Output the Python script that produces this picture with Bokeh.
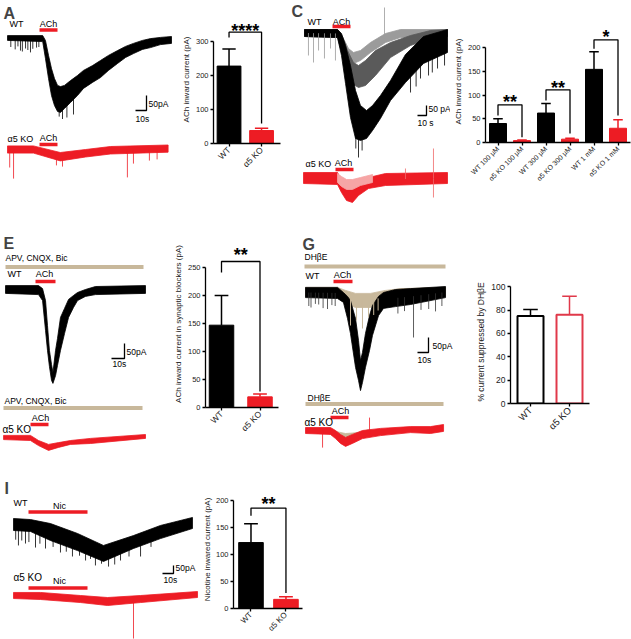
import math
import numpy as np
from bokeh.plotting import figure
from bokeh.models import Range1d, FixedTicker, Label
from bokeh.layouts import row, column
from bokeh.core.properties import value
from bokeh.embed import file_html
from bokeh.resources import INLINE

FONT = "Liberation Sans"
BLACK = "#000000"
RED = "#ed1c24"
TAN = "#c8b89b"
LGRAY = "#9b9b9b"
DGRAY = "#5a5a5a"
PINK = "#f6a5a5"
HRED = "#e0394a"

SCALE_S = 10      # s
SCALE_PA = 50     # pA

# ---------------- traces: time (s), envelope top / bottom (pA, rel. baseline) ----------------
A_wt_t = [0, 32, 34.5, 37.3, 40, 42.7, 45.5, 48.2, 51.8, 57.3, 63.6, 69.1, 77.3, 84.5, 91.8, 100, 107.3, 114.5, 122.7, 130, 139.1, 149.1]
A_wt_top = [8, 8, -8, -58, -102, -135, -158, -162, -158, -142, -125, -108, -92, -75, -58, -42, -28, -18, -8, -2, 2, 5]
A_wt_bot = [-8, -12, -68, -135, -192, -225, -245, -248, -235, -215, -192, -168, -148, -132, -108, -85, -65, -52, -38, -32, -22, -18]
A_wt_spk_t = [3, 7, 9.5, 11.8, 13.5, 16.4, 18.5, 20.9, 23, 26.4, 28.5, 44, 47, 50, 54, 60]
A_wt_spk_v = [-30, -38, -28, -42, -45, -35, -40, -48, -36, -32, -30, -215, -262, -270, -265, -255]
A_ko_t = [0, 23.6, 48, 71, 93.6, 146]
A_ko_top = [12, 12, -10, 0, 10, 15]
A_ko_bot = [-12, -12, -38, -25, -15, -9]
A_ko_spk_t = [2, 5.5, 44.5, 50, 109, 114.5, 129, 136]
A_ko_spk_v = [-60, -97, -53, -57, -93, -47, -37, -33]

C_1mM_t = [0, 36.7, 41.1, 45.6, 51.1, 56.7, 62.2, 68.9, 75.6, 84.4, 95.6, 112.2, 132.2, 158.9]
C_1mM_top = [15, 15, -5, -65, -165, -290, -365, -390, -365, -315, -240, -110, -20, 15]
C_1mM_bot = [-20, -25, -115, -255, -425, -530, -540, -530, -490, -430, -340, -250, -155, -100]
C_300_t = [0, 36.7, 42.2, 47.8, 54.4, 60, 67.8, 78.9, 95.6, 117.8, 140, 158.9]
C_300_top = [15, 15, -20, -90, -150, -165, -140, -90, -50, -15, 10, 15]
C_300_bot = [-20, -25, -115, -200, -260, -275, -265, -215, -125, -65, -30, -20]
C_100_t = [0, 36.7, 43.3, 48.9, 54.4, 62.2, 73.3, 90, 106.7, 158.9]
C_100_top = [15, 15, -30, -80, -100, -90, -50, -5, 15, 15]
C_100_bot = [-20, -25, -90, -140, -155, -140, -100, -50, -25, -20]
C_gray_spk_t = [4.4, 10, 15.6, 22.2, 28.9, 34.4, 88.9]
C_gray_spk_v = [-115, -150, -90, -130, -80, -140, 125]
C_blk_spk_t = [57, 60, 64, 117.8, 124, 128.9, 137.8, 142, 147.8, 155.6]
C_blk_spk_v = [-580, -625, -590, -300, -270, -230, -215, -200, -180, -165]
C_ko_t = [-1.1, 36.7, 41.1, 46.7, 53.3, 60, 71.1, 90, 158.9]
C_ko_top = [25, 25, -15, -55, -55, -30, 0, 20, 25]
C_ko_bot = [-30, -35, -75, -115, -125, -90, -55, -40, -30]
C_ko100_t = [36.7, 41.1, 46.7, 53.3, 62.2, 75.6]
C_ko100_top = [20, 5, -10, -10, 0, 15]
C_ko100_bot = [-25, -45, -60, -60, -40, -25]
C_ko_spk_t = [143.3, 143.3, 112.2]
C_ko_spk_v = [145, -100, 45]

E_wt_t = [0, 25.4, 28.5, 30.8, 32.3, 33.8, 35.4, 36.5, 38.5, 40, 42.3, 45.4, 48.5, 52.3, 55.4, 61.5, 69.2, 107.7]
E_wt_top = [13, 13, 3, -37, -120, -203, -250, -277, -203, -163, -93, -63, -33, -20, -10, 0, 10, 13]
E_wt_bot = [-13, -17, -37, -137, -203, -257, -303, -313, -287, -253, -203, -147, -93, -60, -37, -23, -17, -13]
E_ko_t = [-1.5, 19.2, 25.4, 33.1, 40.8, 50, 65.4, 107.7]
E_ko_top = [7, 7, -10, -23, -17, -10, -3, 10]
E_ko_bot = [-7, -10, -27, -43, -33, -23, -20, -3]

G_wt_t = [0, 29.1, 34.5, 38.2, 40.9, 45.5, 48.2, 50, 51.8, 54.5, 58.2, 60.9, 66.4, 70.9, 81.8, 95.5, 127.3]
G_wt_top = [17, 17, 0, -13, -27, -87, -160, -227, -200, -137, -77, -43, -13, 0, 10, 13, 20]
G_wt_bot = [-17, -20, -33, -87, -137, -250, -293, -327, -300, -250, -193, -143, -77, -53, -47, -40, -17]
G_wt_spk_t = [3, 5, 9, 12, 16, 20, 24, 27, 84, 90, 98.2, 105, 112, 118.2, 124]
G_wt_spk_v = [-45, -50, -38, -40, -52, -55, -42, -45, -70, -62, -150, -58, -55, -63, -45]
G_dh_t = [0, 29.1, 36.4, 45.5, 59.1, 72.7, 86.4, 127.3]
G_dh_top = [17, 17, 7, -3, -3, 7, 13, 17]
G_dh_bot = [-13, -17, -37, -50, -50, -33, -20, -13]
G_dh_spk_t = [40.9, 46.4, 51.8, 57.3, 62, 66]
G_dh_spk_v = [-110, -93, -120, -83, -75, -60]
G_ko_t = [0, 22.7, 27.3, 31.8, 36.4, 42.7, 51.8, 68.2, 95.5, 113.6, 125.5]
G_ko_top = [10, 10, 0, -13, -23, -13, 0, 7, 13, 13, 20]
G_ko_bot = [-10, -13, -27, -43, -53, -43, -27, -17, -7, -10, -3]
G_kodh_t = [20.9, 27.3, 36.4, 48.2, 57.3]
G_kodh_top = [7, -3, -10, -7, 3]
G_kodh_bot = [-10, -20, -30, -23, -13]
G_ko_spk_t = [58.2, 15.5]
G_ko_spk_v = [43, -57]

I_wt_t = [0, 15.5, 33.6, 58.2, 81.8, 109.1, 133.6, 162.7]
I_wt_top = [37.5, 31, 6, -56, -131, -69, -6, 44]
I_wt_bot = [-37.5, -44, -100, -163, -231, -150, -88, -25]
I_wt_spk_t = [2, 4.5, 7.5, 10.9, 14, 20, 24, 29.1, 36, 42.7, 48, 53.6, 60, 65.5, 70, 74.5, 80, 86.4, 92, 97.3, 105, 115.5, 125]
I_wt_spk_v = [-95, -131, -100, -119, -110, -144, -120, -150, -140, -175, -170, -200, -195, -225, -215, -256, -245, -263, -250, -225, -200, -200, -140]
I_ko_t = [0, 24.5, 60.9, 85.5, 115.5, 167.3]
I_ko_top = [19, 19, 0, -12.5, 0, 25]
I_ko_bot = [-19, -25, -44, -62.5, -44, -12.5]
I_ko_spk_t = [109.1]
I_ko_spk_v = [-269]

# ---------------- bar charts ----------------
B_labels = ["WT", "α5 KO"]
B_mean = [227, 38]
B_sem = [50, 7]
D_labels = ["WT 100 μM", "α5 KO 100 μM", "WT 300 μM", "α5 KO 300 μM", "WT 1 mM", "α5 KO 1 mM"]
D_mean = [40, 4, 62, 7, 154, 30]
D_sem = [10, 1.5, 20, 2, 37, 18]
F_labels = ["WT", "α5 KO"]
F_mean = [147, 19]
F_sem = [53, 5]
H_labels = ["WT", "α5 KO"]
H_mean = [75, 76]
H_sem = [5.5, 16]
J_labels = ["WT", "α5 KO"]
J_mean = [122.6, 17]
J_sem = [35, 5]

# significance brackets: (bar i, bar j, text)
B_sig = [(0, 1, "****")]
D_sig = [(0, 1, "**"), (2, 3, "**"), (4, 5, "*")]
F_sig = [(0, 1, "**")]
J_sig = [(0, 1, "**")]


class TracePanel:
    def __init__(self, w, h, px, py, sx, sy, ox, oy):
        self.sx, self.sy, self.ox, self.oy = sx, sy, ox, oy
        x0 = (px - ox) / sx
        x1 = (px + w - ox) / sx
        y0 = (oy - (py + h)) / sy
        y1 = (oy - py) / sy
        p = figure(width=w, height=h, x_range=Range1d(x0, x1), y_range=Range1d(y0, y1),
                   x_axis_location=None, y_axis_location=None, output_backend="svg",
                   toolbar_location=None, min_border=0)
        p.grid.visible = False
        p.outline_line_color = None
        self.p = p

    def X(self, x):
        return (x - self.ox) / self.sx

    def Y(self, y):
        return (self.oy - y) / self.sy

    def text(self, x, y, s, size=9, align="left", color=BLACK):
        self.p.text(x=[self.X(x)], y=[self.Y(y)], text=[s], text_font=value(FONT),
                    text_font_size=f"{size}px", text_align=align, text_baseline="middle",
                    text_color=color)

    def letter(self, x, y, s):
        self.p.add_layout(Label(x=self.X(x), y=self.Y(y), text=s, text_font=FONT,
                                text_font_size="16px", text_font_style="bold",
                                text_baseline="middle", text_align="left"))

    def hbar(self, x0, x1, y, color, lw=3.5):
        self.p.line([self.X(x0), self.X(x1)], [self.Y(y), self.Y(y)], line_color=color,
                    line_width=lw, line_cap="butt")

    def band(self, t, top, bot, color, base):
        off = self.Y(base)
        xs = list(t) + list(t)[::-1]
        ys = [v + off for v in top] + [v + off for v in bot][::-1]
        self.p.patch(xs, ys, fill_color=color, line_color=color, line_width=0.8)

    def spikes(self, st, sv, t, top, bot, color, base, lw=0.8):
        off = self.Y(base)
        mid = np.interp(st, t, (np.array(top) + np.array(bot)) / 2.0)
        self.p.segment(x0=list(st), y0=list(mid + off), x1=list(st), y1=[v + off for v in sv],
                       line_color=color, line_width=lw)

    def scalebar(self, xr, yb):
        X, Y = self.X(xr), self.Y(yb)
        self.p.line([X - SCALE_S, X, X], [Y, Y, Y + SCALE_PA], line_color=BLACK, line_width=1.3)


def bar_panel(w, h, px, py, fl, fr, ft, fb, ppx, ppy, xc0, bw_px, labels, means, sems,
              fills, lines, yticks, ylabel, tick_size=7.5, xlab_size=8.5, ylab_size=8,
              bar_lw=1, err_lw=1.5, sig=(), sig_geom=(), letter=None):
    xs0 = (fl - xc0) / ppx
    p = figure(width=w, height=h,
               x_range=Range1d(xs0, xs0 + (fr - fl) / ppx),
               y_range=Range1d(0, (fb - ft) / ppy),
               min_border_left=fl - px, min_border_right=px + w - fr,
               min_border_top=ft - py, min_border_bottom=py + h - fb,
               output_backend="svg", toolbar_location=None)
    p.grid.visible = False
    p.outline_line_color = None
    xs = list(range(len(means)))
    bw = bw_px / ppx
    tops = [m + s for m, s in zip(means, sems)]
    cw = bw * 0.28
    p.segment(x0=xs, y0=means, x1=xs, y1=tops, line_color=lines, line_width=err_lw)
    p.segment(x0=[x - cw for x in xs], y0=tops, x1=[x + cw for x in xs], y1=tops,
              line_color=lines, line_width=err_lw)
    p.vbar(x=xs, width=bw, top=means, bottom=0, fill_color=fills, line_color=lines,
           line_width=bar_lw)

    def Y(y):
        return (fb - y) / ppy

    def X(x):
        return xs0 + (x - fl) / ppx

    for (i, j, s), (yb, yl, yr, ys) in zip(sig, sig_geom):
        p.line([i, i, j, j], [Y(yl), Y(yb), Y(yb), Y(yr)], line_color=BLACK, line_width=1.3)
        p.text(x=[(i + j) / 2.0], y=[Y(ys)], text=[s], text_font=value(FONT),
               text_font_size="18px", text_font_style="bold", text_align="center",
               text_baseline="middle", y_offset=4)

    p.yaxis.ticker = FixedTicker(ticks=yticks)
    p.yaxis.bounds = (0, yticks[-1])
    p.xaxis.ticker = FixedTicker(ticks=xs)
    p.xaxis.major_label_overrides = {i: lab for i, lab in enumerate(labels)}
    p.xaxis.major_label_orientation = math.pi / 4
    for ax in (p.xaxis[0], p.yaxis[0]):
        ax.axis_line_width = 1.3
        ax.axis_line_color = BLACK
        ax.major_tick_line_width = 1.3
        ax.major_tick_out = 3
        ax.major_tick_in = 0
        ax.minor_tick_line_color = None
        ax.major_label_text_font = FONT
        ax.major_label_text_color = "#222222"
        ax.major_label_standoff = 2
    p.yaxis.major_label_text_font_size = f"{tick_size}px"
    p.xaxis.major_label_text_font_size = f"{xlab_size}px"
    p.yaxis.axis_label = ylabel
    p.yaxis.axis_label_text_font = FONT
    p.yaxis.axis_label_text_font_size = f"{ylab_size}px"
    p.yaxis.axis_label_text_font_style = "normal"
    p.yaxis.axis_label_text_color = "#222222"
    p.yaxis.axis_label_standoff = 2
    if letter:
        lx, ly, s = letter
        p.add_layout(Label(x=X(lx), y=Y(ly), text=s, text_font=FONT, text_font_size="16px",
                           text_font_style="bold", text_baseline="middle", text_align="left"))
    return p


# ---------------- Panel A ----------------
A = TracePanel(178, 235, 0, 0, 1.1, 0.3, 7, 37.5)
A.band(A_wt_t, A_wt_top, A_wt_bot, BLACK, 37.5)
A.spikes(A_wt_spk_t, A_wt_spk_v, A_wt_t, A_wt_top, A_wt_bot, BLACK, 37.5)
A.band(A_ko_t, A_ko_top, A_ko_bot, RED, 149)
A.spikes(A_ko_spk_t, A_ko_spk_v, A_ko_t, A_ko_top, A_ko_bot, RED, 149)
A.letter(3, 13, "A")
A.text(9, 23.5, "WT")
A.text(48, 23.5, "ACh", align="center")
A.hbar(39, 57, 29.5, RED)
A.text(7, 138, "α5 KO")
A.text(48, 137, "ACh", align="center")
A.hbar(39, 57, 144, RED)
A.scalebar(146, 110)
A.text(148, 103, "50pA", 8.5)
A.text(135, 118, "10s", 8.5)

# ---------------- Panel B ----------------
pB = bar_panel(112, 235, 178, 0, 211, 280, 15, 143, 33.5, 0.341, 227, 24.5,
               B_labels, B_mean, B_sem, [BLACK, RED], [BLACK, RED], [0, 100, 200, 300],
               "ACh inward current (pA)", sig=B_sig, sig_geom=[(31.7, 37, 123, 26)],
               letter=(179, 13, "B"))

# ---------------- Panel C ----------------
C = TracePanel(160, 235, 290, 0, 0.9, 0.2, 304, 32)
C.band(C_100_t, C_100_top, C_100_bot, LGRAY, 32)
C.band(C_300_t, C_300_top, C_300_bot, DGRAY, 32)
C.band(C_1mM_t, C_1mM_top, C_1mM_bot, BLACK, 32)
C.spikes(C_blk_spk_t, C_blk_spk_v, C_1mM_t, C_1mM_top, C_1mM_bot, BLACK, 32)
C.spikes(C_gray_spk_t, C_gray_spk_v, C_100_t, C_100_top, C_100_bot, LGRAY, 32)
C.band(C_ko_t, C_ko_top, C_ko_bot, RED, 177)
C.band(C_ko100_t, C_ko100_top, C_ko100_bot, PINK, 177)
C.spikes(C_ko_spk_t, C_ko_spk_v, C_ko_t, C_ko_top, C_ko_bot, "#f06a6a", 177)
C.letter(291, 11, "C")
C.text(307, 21, "WT")
C.text(341, 21, "ACh", align="center")
C.hbar(332, 350, 26, RED)
C.text(305, 163, "α5 KO")
C.text(343, 162, "ACh", align="center")
C.hbar(335, 353, 169, RED)
C.scalebar(426, 115)
C.text(428, 108, "50 pA", 8.5)
C.text(417, 122, "10 s", 8.5)

# ---------------- Panel D ----------------
pD = bar_panel(181, 235, 450, 0, 485, 630, 20, 142, 24, 0.475, 497.5, 17,
               D_labels, D_mean, D_sem, [BLACK, RED] * 3, [BLACK, RED] * 3,
               [0, 50, 100, 150, 200], "ACh inward current (pA)", xlab_size=7,
               sig=D_sig, sig_geom=[(104.3, 115, 136.7, 97.7), (89.3, 100, 133, 83),
                                    (39.3, 48.3, 115, 32)],
               letter=(456, 14, "D"))

# ---------------- Panel E ----------------
E = TracePanel(170, 245, 0, 235, 1.3, 0.3, 5, 289)
E.band(E_wt_t, E_wt_top, E_wt_bot, BLACK, 289)
E.band(E_ko_t, E_ko_top, E_ko_bot, RED, 437)
E.letter(3, 243, "E")
E.text(5, 257, "APV, CNQX, Bic", 8.5)
E.hbar(5, 143, 266.5, TAN, 4)
E.text(7, 273, "WT")
E.text(44, 273, "ACh", align="center")
E.hbar(35, 55, 281, RED)
E.scalebar(124, 358)
E.text(126, 351, "50pA", 8.5)
E.text(112, 363, "10s", 8.5)
E.text(4, 400, "APV, CNQX, Bic", 8.5)
E.hbar(3, 142, 407.5, TAN, 4)
E.text(40, 417, "ACh", align="center")
E.hbar(30, 48, 424, RED)
E.text(2, 429, "α5 KO", 10)

# ---------------- Panel F ----------------
pF = bar_panel(130, 245, 170, 235, 205, 278, 240, 407, 38.5, 0.56, 221, 24.5,
               F_labels, F_mean, F_sem, [BLACK, RED], [BLACK, RED],
               [0, 50, 100, 150, 200, 250], "ACh inward current in synaptic blockers (pA)",
               sig=F_sig, sig_geom=[(261, 272, 391, 250)], letter=(174, 243, "F"))

# ---------------- Panel G ----------------
G = TracePanel(160, 245, 300, 235, 1.1, 0.3, 305, 292)
G.band(G_dh_t, G_dh_top, G_dh_bot, TAN, 292)
G.band(G_wt_t, G_wt_top, G_wt_bot, BLACK, 292)
G.spikes(G_wt_spk_t, G_wt_spk_v, G_wt_t, G_wt_top, G_wt_bot, "#333333", 292)
G.spikes(G_dh_spk_t, G_dh_spk_v, G_dh_t, G_dh_top, G_dh_bot, TAN, 292, lw=1)
G.band(G_kodh_t, G_kodh_top, G_kodh_bot, TAN, 430)
G.band(G_ko_t, G_ko_top, G_ko_bot, RED, 430)
G.spikes(G_ko_spk_t, G_ko_spk_v, G_ko_t, G_ko_top, G_ko_bot, RED, 430)
G.letter(302, 244, "G")
G.text(304, 256, "DHβE", 8.5)
G.hbar(304, 445, 266, TAN, 4)
G.text(305, 275, "WT")
G.text(342, 274, "ACh", align="center")
G.hbar(333, 352, 281, RED)
G.scalebar(428, 352)
G.text(432, 345, "50pA", 8.5)
G.text(417, 359, "10s", 8.5)
G.text(307, 397, "DHβE", 8.5)
G.hbar(305, 443, 403.5, TAN, 4)
G.text(340, 410, "ACh", align="center")
G.hbar(330, 348, 417, RED)
G.text(304, 422, "α5 KO", 10)

# ---------------- Panel H ----------------
pH = bar_panel(171, 245, 460, 235, 510, 589, 280, 403, 39, 1.1667, 530, 26,
               H_labels, H_mean, H_sem, ["white", "white"], [BLACK, HRED],
               [0, 20, 40, 60, 80, 100], "% current suppressed by DHβE",
               tick_size=8.5, xlab_size=9.5, ylab_size=8.5,
               bar_lw=2, letter=(467, 244, "H"))

# ---------------- Panel I ----------------
I = TracePanel(199, 159, 0, 480, 1.1, 0.16, 13, 524)
I.band(I_wt_t, I_wt_top, I_wt_bot, BLACK, 524)
I.spikes(I_wt_spk_t, I_wt_spk_v, I_wt_t, I_wt_top, I_wt_bot, BLACK, 524)
I.band(I_ko_t, I_ko_top, I_ko_bot, RED, 595)
I.spikes(I_ko_spk_t, I_ko_spk_v, I_ko_t, I_ko_top, I_ko_bot, RED, 595)
I.letter(4, 488, "I")
I.text(13, 502, "WT")
I.text(59, 505, "Nic", align="center")
I.hbar(28, 87, 511.5, RED)
I.scalebar(173, 573)
I.text(175, 567, "50pA", 8.5)
I.text(163, 579, "10s", 8.5)
I.text(13, 577, "α5 KO", 10)
I.text(59, 580, "Nic", align="center")
I.hbar(28, 87, 587.5, RED)

# ---------------- Panel J ----------------
pJ = bar_panel(111, 159, 199, 480, 229, 302, 490, 611, 37, 0.5515, 247.5, 26,
               J_labels, J_mean, J_sem, [BLACK, RED], [BLACK, RED],
               [0, 50, 100, 150, 200], "Nicotine inwared current (pA)", xlab_size=8,
               sig=J_sig, sig_geom=[(508, 516, 595, 500)], letter=(203, 489, "J"))
pJ.yaxis.axis_label_standoff = 1


def box(fig):
    # each plot in its own container, so no border alignment across panels
    return column(fig, spacing=0)


layout = column(
    row(box(A.p), box(pB), box(C.p), box(pD), spacing=0),
    row(box(E.p), box(pF), box(G.p), box(pH), spacing=0),
    row(box(I.p), box(pJ), spacing=0),
    spacing=0)

open("out.html", "w").write(file_html(layout, INLINE, title="figure"))
